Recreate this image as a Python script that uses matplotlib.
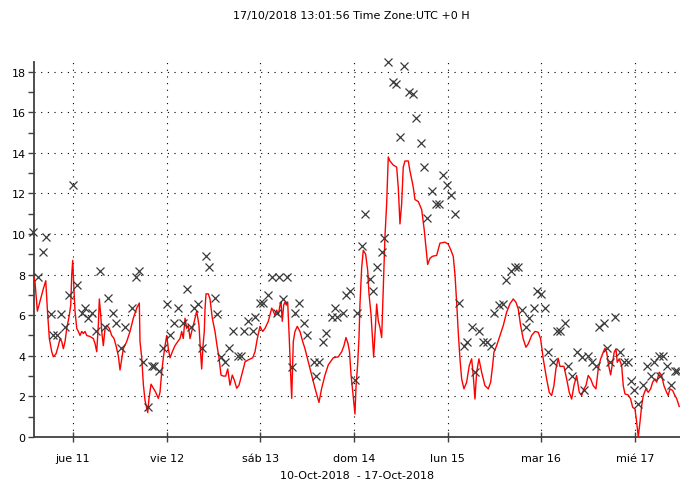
import matplotlib
matplotlib.use("Agg")
import matplotlib.pyplot as plt
import numpy as np

# hours since 10-Oct-2018 00:00
line_hours = [13.83, 14.27, 14.86, 15.55, 16.39, 17.01, 17.42, 17.93, 18.54, 18.95,
              19.65, 20.24, 20.67, 21.11, 21.52, 21.95, 22.39, 23.05, 23.41, 23.67,
              23.92, 24.18, 24.51, 24.95, 25.36, 25.79, 26.23, 26.64, 27.07, 27.51,
              28.35, 29.20, 29.64, 30.07, 30.48, 30.74, 31.10, 31.35, 31.76, 32.20,
              32.63, 33.30, 33.91, 34.50, 35.01, 35.60, 36.04, 36.47, 36.88, 37.75,
              38.60, 39.44, 40.32, 40.98, 41.16, 41.60, 42.01, 42.44, 43.13, 43.47,
              43.98, 44.57, 45.18, 45.85, 46.28, 46.72, 47.13, 47.57, 48.00, 48.41,
              48.85, 49.44, 50.12, 50.82, 51.41, 51.84, 52.25, 52.69, 53.12, 53.53,
              53.97, 54.40, 55.07, 55.68, 56.27, 56.61, 56.96, 57.30, 57.63, 57.81,
              58.07, 58.66, 59.09, 59.68, 60.37, 60.89, 61.40, 61.91, 62.50, 63.11,
              63.63, 64.21, 64.80, 65.32, 65.93, 66.52, 67.21, 67.88, 68.06, 68.90,
              70.03, 70.62, 71.21, 71.90, 72.59, 73.18, 74.03, 74.90, 75.31, 75.74,
              76.18, 76.59, 77.02, 77.28, 77.61, 77.97, 78.30, 78.64, 78.99, 79.40,
              79.76, 80.02, 80.27, 80.43, 80.86, 81.45, 82.14, 82.84, 83.42, 84.27,
              85.14, 85.99, 87.01, 87.70, 88.55, 89.39, 90.67, 91.96, 92.83, 93.41,
              93.93, 94.45, 94.83, 95.21, 95.54, 95.97, 96.23, 96.49, 96.92, 97.26,
              97.51, 97.95, 98.36, 98.97, 99.49, 99.82, 100.33, 100.66, 101.02, 101.35,
              101.79, 102.20, 102.63, 103.07, 103.48, 103.91, 104.35, 104.76, 105.19, 106.04,
              106.91, 107.32, 107.76, 108.19, 108.60, 109.04, 109.89, 110.32, 110.76, 111.17,
              111.60, 112.45, 113.32, 113.98, 114.42, 114.85, 115.44, 116.03, 117.16, 118.00,
              119.28, 120.13, 120.82, 121.41, 121.85, 122.28, 122.69, 123.13, 123.56, 124.15,
              124.84, 125.51, 126.12, 126.53, 126.97, 127.40, 127.99, 128.68, 129.53, 130.38,
              130.99, 131.50, 131.84, 132.53, 133.37, 134.22, 135.09, 135.93, 136.78, 137.47,
              138.06, 138.67, 139.34, 140.03, 140.62, 141.49, 142.34, 143.18, 143.80, 144.46,
              145.33, 146.00, 146.61, 147.20, 147.71, 148.30, 148.74, 149.76, 150.46, 151.12,
              151.74, 152.33, 153.02, 153.69, 154.30, 154.89, 155.40, 155.99, 156.61, 157.27,
              157.96, 158.55, 159.17, 159.84, 160.27, 160.70, 161.22, 161.73, 162.24, 162.65,
              163.09, 163.42, 163.93, 164.55, 164.96, 165.40, 166.24, 166.86, 167.37, 167.96,
              168.40, 168.81, 169.24, 169.68, 170.09, 170.77, 171.36, 171.97, 172.49, 173.08,
              173.51, 174.18, 174.79, 175.38, 176.07, 176.48, 176.92, 177.61, 178.20, 178.63,
              179.30]
line_values = [8.0, 7.6, 6.2, 6.7, 7.3, 7.7, 6.3, 4.85, 4.2, 3.95,
               4.1, 4.5, 4.85, 4.7, 4.35, 4.7, 5.35, 6.0, 6.5, 8.0,
               8.7, 7.5, 6.2, 5.35, 5.2, 5.0, 5.2, 5.1, 5.2, 5.0,
               4.95, 4.85, 4.6, 4.2, 5.5, 6.8, 6.0, 5.2, 4.5, 5.35,
               5.5, 5.35, 5.0, 4.85, 4.5, 4.0, 3.3, 3.85, 4.35, 4.7,
               5.2, 5.85, 6.35, 6.6, 4.7, 3.9, 2.6, 1.8, 1.2, 1.9,
               2.6, 2.4, 2.2, 1.9, 2.2, 3.2, 3.9, 4.5, 5.0, 4.35,
               3.9, 4.2, 4.5, 4.7, 4.85, 5.2, 4.85, 5.85, 5.35, 5.5,
               4.85, 5.2, 5.7, 6.2, 5.5, 4.35, 3.35, 4.5, 5.2, 6.3,
               7.05, 7.05, 6.8, 5.85, 5.2, 4.5, 3.9, 3.05, 3.0, 3.0,
               3.35, 2.55, 3.05, 2.8, 2.4, 2.55, 3.05, 3.55, 3.7, 3.8,
               3.9, 4.2, 4.85, 5.45, 5.2, 5.35, 5.7, 6.35, 6.2, 6.0,
               6.25, 6.0, 6.5, 6.65, 5.7, 6.5, 6.65, 6.5, 6.65, 4.85,
               3.05, 1.9, 3.7, 4.7, 5.2, 5.45, 5.2, 4.7, 4.35, 3.7,
               3.05, 2.4, 1.7, 2.4, 3.05, 3.55, 3.9, 3.95, 4.2, 4.5,
               4.9, 4.6, 4.2, 3.1, 2.45, 1.63, 1.13, 2.45, 3.6, 4.9,
               6.55, 8.35, 9.2, 9.0, 8.2, 7.05, 6.06, 5.08, 3.93, 5.08,
               6.55, 5.73, 5.4, 4.9, 7.4, 9.85, 11.5, 13.8, 13.6, 13.4,
               13.3, 12.3, 10.5, 11.5, 13.3, 13.6, 13.6, 13.1, 12.7, 12.3,
               11.7, 11.6, 11.2, 10.2, 9.35, 8.5, 8.8, 8.9, 8.95, 9.55,
               9.6, 9.5, 9.2, 8.9, 8.0, 6.64, 5.16, 3.85, 2.86, 2.37,
               2.7, 3.52, 3.85, 3.03, 1.87, 3.19, 3.85, 3.19, 2.53, 2.37,
               2.7, 3.52, 4.18, 4.5, 5.0, 5.49, 6.15, 6.56, 6.8, 6.64,
               6.31, 5.49, 4.83, 4.42, 4.59, 5.0, 5.2, 5.16, 4.83, 3.85,
               2.86, 2.2, 2.04, 2.53, 3.35, 3.88, 3.48, 3.48, 2.86, 2.2,
               1.87, 2.53, 3.03, 2.2, 2.04, 2.37, 2.53, 3.03, 2.86, 2.53,
               2.37, 3.35, 3.85, 4.18, 4.37, 4.18, 3.52, 3.06, 3.68, 4.18,
               4.34, 3.68, 3.85, 3.52, 2.53, 2.12, 2.07, 1.87, 1.46, 1.38,
               0.72, 0.0, 0.72, 1.54, 2.04, 2.37, 2.2, 2.37, 2.7, 2.86,
               2.7, 3.19, 3.03, 2.53, 2.2, 2.04, 2.37, 2.29, 2.04, 1.9,
               1.5]

mark_hours = [13.8, 15.0, 16.3, 17.1, 18.4, 18.9, 19.9, 20.9, 22.0, 23.0,
              24.0, 25.0, 26.3, 27.1, 27.8, 28.9, 29.9, 30.9, 32.2, 33.0,
              34.2, 35.0, 36.3, 37.3, 39.1, 40.1, 40.9, 41.9, 43.2, 44.2,
              44.7, 46.0, 47.0, 48.1, 48.8, 49.9, 50.9, 52.2, 53.2, 54.2,
              55.0, 56.0, 57.0, 58.1, 58.8, 60.4, 60.9, 61.9, 62.9, 64.0,
              65.0, 66.3, 67.0, 67.8, 68.8, 70.1, 70.6, 71.9, 72.7, 73.9,
              75.0, 76.2, 76.8, 77.8, 78.8, 80.1, 80.9, 81.9, 83.2, 83.9,
              85.7, 86.2, 87.0, 88.0, 88.8, 90.3, 91.1, 91.6, 93.1, 93.9,
              94.9, 96.2, 96.7, 98.0, 98.8, 100.1, 100.8, 101.9, 103.1, 103.6,
              104.7, 106.0, 106.7, 107.7, 108.8, 110.0, 111.1, 111.8, 113.1, 113.9,
              114.7, 115.9, 117.0, 117.7, 118.8, 119.8, 120.8, 121.8, 122.9, 124.1,
              124.9, 126.2, 127.0, 128.0, 129.0, 130.0, 131.1, 131.8, 133.1, 134.1,
              134.9, 136.2, 137.2, 138.0, 139.0, 140.0, 140.8, 142.1, 142.8, 143.9,
              144.9, 145.6, 146.9, 147.9, 148.7, 150.0, 150.8, 151.8, 153.1, 154.4,
              154.9, 155.9, 156.9, 157.9, 158.7, 160.0, 160.8, 161.5, 162.8, 164.1,
              165.1, 166.1, 166.9, 167.7, 168.7, 170.0, 171.0, 172.0, 172.8, 174.1,
              174.3, 175.1, 176.1, 177.1, 178.1, 178.7]
mark_values = [10.1, 7.9, 9.1, 9.85, 6.05, 5.0, 5.0, 6.05, 5.4, 7.0,
               12.4, 7.5, 6.1, 6.35, 5.85, 6.1, 5.2, 8.2, 5.4, 6.85,
               6.1, 5.6, 4.4, 5.4, 6.35, 7.9, 8.2, 3.7, 1.5, 3.5,
               3.5, 3.25, 4.4, 6.55, 5.0, 5.6, 6.35, 5.6, 7.3, 5.4,
               6.35, 6.55, 4.4, 8.9, 8.4, 6.85, 6.05, 3.95, 3.7, 4.4,
               5.2, 4.0, 4.0, 5.2, 5.7, 5.2, 5.9, 6.6, 6.6, 7.0,
               7.9, 6.1, 7.9, 6.8, 7.9, 3.45, 6.1, 6.6, 5.6, 5.0,
               3.7, 3.0, 3.7, 4.7, 5.1, 5.9, 6.35, 5.9, 6.1, 7.0,
               7.2, 2.8, 6.1, 9.4, 11.0, 7.8, 7.2, 8.4, 9.1, 9.8,
               18.5, 17.5, 17.4, 14.8, 18.3, 17.0, 16.9, 15.7, 14.5, 13.3,
               10.8, 12.1, 11.5, 11.5, 12.9, 12.4, 11.9, 11.0, 6.6, 4.5,
               4.7, 5.4, 3.2, 5.2, 4.7, 4.7, 4.5, 6.1, 6.5, 6.55,
               7.75, 8.2, 8.4, 8.4, 6.25, 5.4, 5.85, 6.35, 7.2, 7.05,
               6.35, 4.2, 3.7, 5.2, 5.2, 5.6, 3.5, 3.0, 4.2, 3.95,
               2.3, 4.0, 3.7, 3.5, 5.4, 5.6, 4.4, 3.7, 5.9, 4.2,
               3.7, 3.7, 2.75, 2.3, 1.6, 2.55, 3.5, 3.0, 3.7, 4.0,
               3.0, 4.0, 3.5, 2.55, 3.25, 3.25]

day_ticks = [24, 48, 72, 96, 120, 144, 168]
day_labels = ["jue 11", "vie 12", "sáb 13", "dom 14", "lun 15", "mar 16", "mié 17"]

plt.rcParams["font.family"] = ["DejaVu Sans"]
plt.rcParams["font.size"] = 8

fig = plt.figure(figsize=(6.8, 4.85), dpi=100)
ax = fig.add_axes([0.05, 0.097, 0.95, 0.774])

ax.plot(line_hours, line_values, color="red", lw=1.0, zorder=3)
ax.plot(mark_hours, mark_values, ls="none", marker="x", ms=6, mew=0.9,
        color="#3a3a3a", clip_on=False, zorder=4)

ax.set_xlim(14.0, 179.5)
ax.set_ylim(0, 18.5)
ax.set_xticks(day_ticks)
ax.set_xticklabels(day_labels)
ax.set_yticks(np.arange(0, 19, 2))
ax.set_yticks(np.arange(1, 19, 2), minor=True)
ax.tick_params(axis="x", direction="inout", length=7, width=1, color="#404040", pad=8)
ax.tick_params(axis="y", which="both", direction="out", length=4, width=1, color="#404040", pad=2)

ax.grid(True, which="major", color="black", linestyle=(0, (1, 5)), linewidth=0.8)

for s in ["top", "right"]:
    ax.spines[s].set_visible(False)
for s in ["left", "bottom"]:
    ax.spines[s].set_color("#404040")
    ax.spines[s].set_linewidth(1.3)

ax.set_xlabel("10-Oct-2018  - 17-Oct-2018", labelpad=5)
fig.text(0.516, 0.967, "17/10/2018 13:01:56 Time Zone:UTC +0 H", ha="center", va="center")

fig.savefig("out.png", dpi=100)
